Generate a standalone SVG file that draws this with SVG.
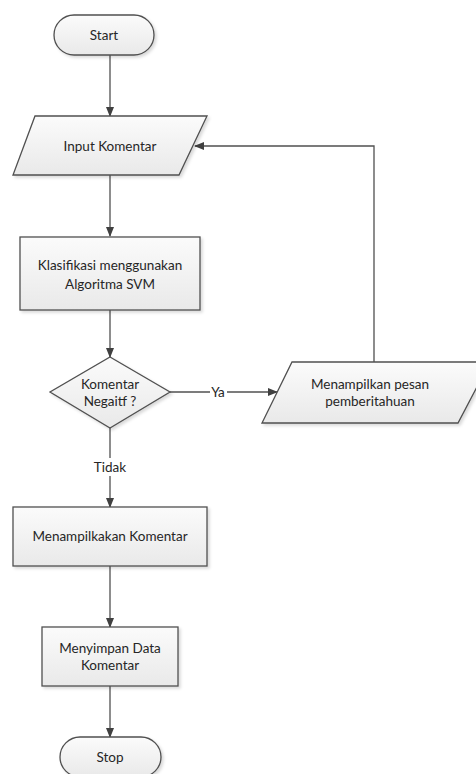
<svg xmlns="http://www.w3.org/2000/svg" width="476" height="774" viewBox="0 0 476 774">
<style>
.shape{fill:url(#g);stroke:#505050;stroke-width:1.3;filter:url(#sh)}
.txt{font-family:Lato,"Open Sans","Liberation Sans",sans-serif;font-size:13.5px;fill:#262626;text-anchor:middle;dominant-baseline:central}
.line{fill:none;stroke:#505050;stroke-width:1.3}
</style>
<defs>
<linearGradient id="g" x1="0" y1="0" x2="0" y2="1">
<stop offset="0" stop-color="#fbfbfb"/>
<stop offset="1" stop-color="#e9e9e9"/>
</linearGradient>
<filter id="sh" x="-10%" y="-10%" width="130%" height="130%">
<feDropShadow dx="2" dy="2" stdDeviation="1.5" flood-color="#000" flood-opacity="0.15"/>
</filter>
<marker id="ah" markerWidth="10" markerHeight="8" refX="9" refY="4" orient="auto" markerUnits="userSpaceOnUse">
<path d="M0,0 L10,4 L0,8 Z" fill="#404040"/>
</marker>
</defs>
<g id="connectors">
<line class="line" x1="110" y1="55" x2="110" y2="116" marker-end="url(#ah)"/>
<line class="line" x1="110" y1="175" x2="110" y2="236" marker-end="url(#ah)"/>
<line class="line" x1="110" y1="310" x2="110" y2="357" marker-end="url(#ah)"/>
<line class="line" x1="170" y1="392" x2="277" y2="392" marker-end="url(#ah)"/>
<polyline class="line" points="374,362 374,146 195,146" marker-end="url(#ah)"/>
<line class="line" x1="110" y1="428" x2="110" y2="507" marker-end="url(#ah)"/>
<line class="line" x1="110" y1="566" x2="110" y2="627" marker-end="url(#ah)"/>
<line class="line" x1="110" y1="686" x2="110" y2="737" marker-end="url(#ah)"/>
<rect x="210" y="384" width="17" height="16" fill="#fff"/>
<text class="txt" x="218" y="392">Ya</text>
<rect x="93" y="458" width="34" height="18" fill="#fff"/>
<text class="txt" x="110" y="467">Tidak</text>
</g>
<g id="start">
<rect class="shape" x="54" y="15" width="100" height="40" rx="20"/>
<text class="txt" x="104" y="35">Start</text>
</g>
<g id="input">
<polygon class="shape" points="35,116 207,116 179,175 13,175"/>
<text class="txt" x="110" y="146">Input Komentar</text>
</g>
<g id="klasifikasi">
<rect class="shape" x="20" y="237" width="180" height="73"/>
<text class="txt" x="110" y="265">Klasifikasi menggunakan</text>
<text class="txt" x="110" y="284">Algoritma SVM</text>
</g>
<g id="decision">
<polygon class="shape" points="110,357 170,392 110,428 50,392"/>
<text class="txt" x="110" y="384">Komentar</text>
<text class="txt" x="110" y="401">Negaitf ?</text>
</g>
<g id="pesan">
<polygon class="shape" points="292,362 490,362 458,423 262,423"/>
<text class="txt" x="370" y="384">Menampilkan pesan</text>
<text class="txt" x="370" y="401">pemberitahuan</text>
</g>
<g id="tampil">
<rect class="shape" x="13" y="507" width="194" height="59"/>
<text class="txt" x="110" y="536">Menampilkakan Komentar</text>
</g>
<g id="simpan">
<rect class="shape" x="42" y="627" width="136" height="59"/>
<text class="txt" x="110" y="648">Menyimpan Data</text>
<text class="txt" x="110" y="665">Komentar</text>
</g>
<g id="stop">
<rect class="shape" x="60" y="737" width="101" height="40" rx="20"/>
<text class="txt" x="110" y="757">Stop</text>
</g>
</svg>
